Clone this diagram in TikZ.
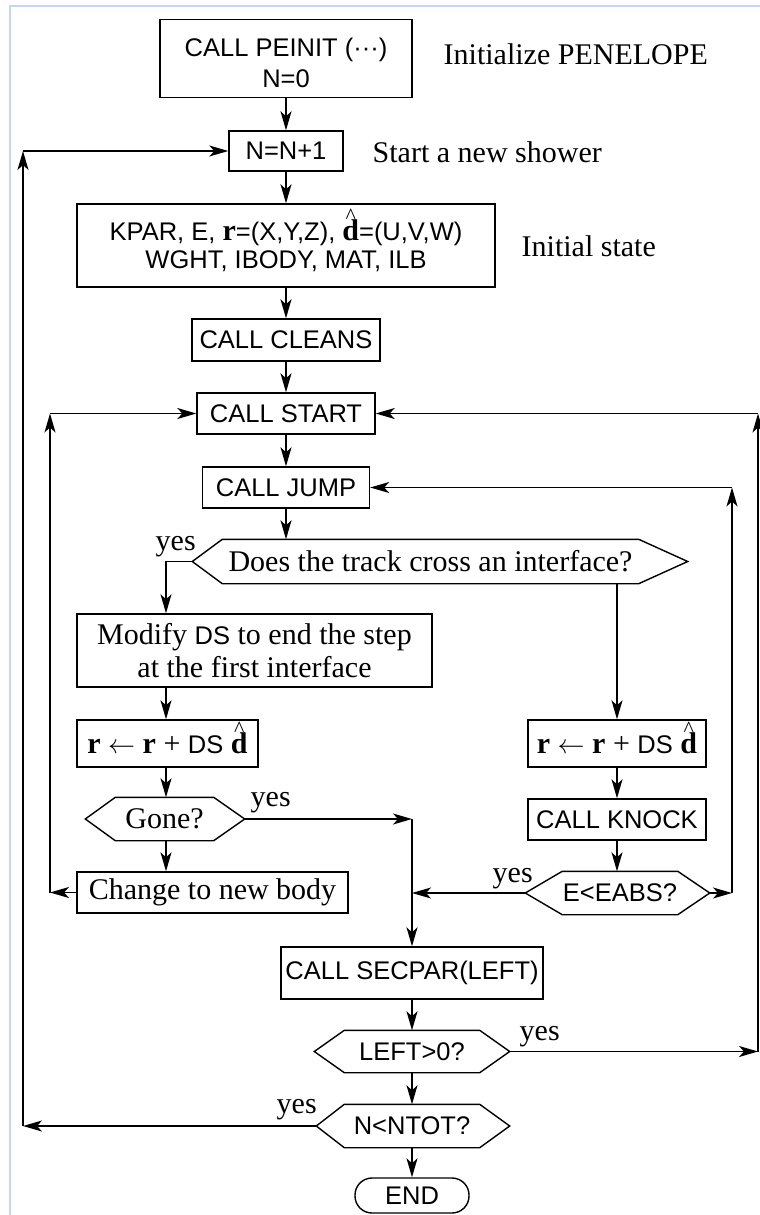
\documentclass[tikz,border=0pt]{standalone}
\usepackage{fontspec}
\usepackage{graphicx}
\setmainfont{Liberation Serif}
\newfontfamily\sansf{Liberation Sans}
\usetikzlibrary{arrows.meta}
\definecolor{framebl}{RGB}{196,216,245}
\newcommand{\dhat}{{\ooalign{{\rmfamily\bfseries\fontsize{30}{30}\selectfont d}\cr\hidewidth\raisebox{17pt}[0pt][0pt]{\rmfamily\mdseries\fontsize{22}{22}\selectfont\textasciicircum}\hidewidth\cr}}}
\newcommand{\rvec}{{\rmfamily\bfseries\fontsize{30}{30}\selectfont r}}
\newcommand{\dsf}{{\sansf\fontsize{25.5}{25.5}\selectfont DS}}
\newcommand{\larr}{\resizebox{27pt}{!}{$\leftarrow$}}
\begin{document}
\begin{tikzpicture}[x=1pt,y=-1pt,line width=1.4pt,
  sbox/.style={draw,inner sep=0pt,align=center,font=\sansf\fontsize{25.5}{28}\selectfont},
  rbox/.style={draw,inner sep=0pt,align=center,font=\fontsize{30}{33}\selectfont},
  hexa/.style 2 args={inner sep=0pt,align=center,
    append after command={\pgfextra{\draw[line width=1.4pt] (\tikzlastnode.north west) -- (\tikzlastnode.north east) -- ([xshift=#2]\tikzlastnode.east) -- (\tikzlastnode.south east) -- (\tikzlastnode.south west) -- ([xshift=-#1]\tikzlastnode.west) -- cycle;}}},
  sfont/.style={font=\sansf\fontsize{25.5}{28}\selectfont},
  rfont/.style={font=\fontsize{30}{33}\selectfont},
  lbl/.style={anchor=west,inner sep=0pt,font=\fontsize{30}{33}\selectfont},
  yeslbl/.style={anchor=base west,inner sep=0pt,font=\fontsize{30}{33}\selectfont},
  arr/.style={-{Stealth[length=19pt,width=11pt,inset=5pt]}}
]
\useasboundingbox (0,0) rectangle (760,1215);
\draw[framebl,line width=2pt] (9.5,1215) -- (9.5,6.5) -- (760,6.5);

% boxes
\node[sbox,minimum width=252pt,minimum height=78pt,font=\sansf\fontsize{25.5}{31.5}\selectfont] (peinit) at (286,58.5) {\rule{0pt}{27pt}CALL PEINIT (···)\\N=0};
\node[sbox,minimum width=114pt,minimum height=40pt] (n1) at (286,151) {N=N+1};
\node[sbox,minimum width=418pt,minimum height=83pt] (kpar) at (286,245.5) {KPAR, E, \rvec=(X,Y,Z), \dhat=(U,V,W)\\WGHT, IBODY, MAT, ILB};
\node[sbox,minimum width=188pt,minimum height=42pt] (cleans) at (286,340) {CALL CLEANS};
\node[sbox,minimum width=178pt,minimum height=41pt] (start) at (286,413.5) {CALL START};
\node[sbox,minimum width=167pt,minimum height=41pt] (jump) at (286,487.5) {CALL JUMP};
\node[hexa={30pt}{49pt},rfont,minimum width=415pt,minimum height=43pt] (cross) at (430.5,561.5) {Does the track cross an interface?};
\node[rbox,minimum width=355pt,minimum height=73pt] (modify) at (254.5,650.5) {Modify \dsf{} to end the step\\at the first interface};
\node[rbox,minimum width=181pt,minimum height=47pt] (rL) at (167.5,743.5) {\rvec{} \larr{} \rvec{} + \dsf{} \dhat};
\node[rbox,minimum width=178pt,minimum height=47pt] (rR) at (617,743.5) {\rvec{} \larr{} \rvec{} + \dsf{} \dhat};
\node[hexa={30pt}{31pt},rfont,minimum width=97pt,minimum height=42pt] (gone) at (164.5,819) {Gone?};
\node[sbox,minimum width=178pt,minimum height=41pt] (knock) at (617,819.5) {CALL KNOCK};
\node[rbox,minimum width=271pt,minimum height=41pt] (change) at (212.5,892.5) {Change to new body};
\node[hexa={37pt}{32pt},sfont,minimum width=110pt,minimum height=42pt] (eabs) at (620,893) {E<EABS?};
\node[sbox,minimum width=262pt,minimum height=52pt] (secpar) at (412,973) {CALL SECPAR(LEFT)};
\node[hexa={30pt}{30pt},sfont,minimum width=134pt,minimum height=41pt] (leftgt) at (412,1051.5) {LEFT>0?};
\node[hexa={28pt}{30pt},sfont,minimum width=134pt,minimum height=42pt] (ntot) at (412,1126) {N<NTOT?};
\node[sbox,rounded corners=17pt,minimum width=114pt,minimum height=35pt] (end) at (412,1195.5) {END};

% side labels
\node[lbl] (initlbl) at (443,54) {Initialize PENELOPE};
\node[lbl] (startlbl) at (372,152) {Start a new shower};
\node[lbl] (statelbl) at (521,246) {Initial state};
\node[yeslbl] (yes1) at (155,550) {yes};
\node[yeslbl] (yes2) at (250,806) {yes};
\node[yeslbl] (yes3) at (492,882) {yes};
\node[yeslbl] (yes4) at (519,1040) {yes};
\node[yeslbl] (yes5) at (276,1113) {yes};

% hexagon tips
\coordinate (crossL) at ([xshift=-30pt]cross.west);
\coordinate (goneR) at ([xshift=31pt]gone.east);
\coordinate (eabsL) at ([xshift=-37pt]eabs.west);
\coordinate (eabsR) at ([xshift=32pt]eabs.east);
\coordinate (leftgtR) at ([xshift=30pt]leftgt.east);
\coordinate (ntotL) at ([xshift=-28pt]ntot.west);

% corner points
\coordinate (cyes) at (166,561.5);
\coordinate (gy) at (412,819);
\coordinate (er) at (732,893);
\coordinate (ert) at (732,487.5);
\coordinate (cl) at (50,892.5);
\coordinate (clt) at (50,413.5);
\coordinate (lr) at (758,1051.5);
\coordinate (lrt) at (758,413.5);
\coordinate (nl) at (23,1126);
\coordinate (nlt) at (23,151);

% main column
\draw[arr] (peinit.south) -- (n1.north);
\draw[arr] (n1.south) -- (kpar.north);
\draw[arr] (kpar.south) -- (cleans.north);
\draw[arr] (cleans.south) -- (start.north);
\draw[arr] (start.south) -- (jump.north);
\draw[arr] (jump.south) -- (jump.south |- cross.north);

% left column
\draw[arr] (crossL) -- (cyes) -- (cyes |- modify.north);
\draw[arr] (cyes |- modify.south) -- (cyes |- rL.north);
\draw[arr] (cyes |- rL.south) -- (cyes |- gone.north);
\draw[arr] (cyes |- gone.south) -- (cyes |- change.north);

% right column
\draw[arr] (rR.north |- cross.south) -- (rR.north);
\draw[arr] (rR.south) -- (knock.north);
\draw[arr] (knock.south) -- (knock.south |- eabs.north);

% gone yes / eabs yes
\draw[arr] (goneR) -- (gy);
\draw[arr] (gy) -- (secpar.north);
\draw[arr] (eabsL) -- (secpar.north |- eabsL);

% eabs no -> jump
\draw[arr] (eabsR) -- (er);
\draw[arr] (er) -- (ert);
\draw[arr] (ert) -- (jump.east);

% change -> start
\draw[arr] (change.west) -- (cl);
\draw[arr] (cl) -- (clt);
\draw[arr] (clt) -- (start.west);

% lower column
\draw[arr] (secpar.south) -- (leftgt.north);
\draw[arr] (leftgt.south) -- (ntot.north);
\draw[arr] (ntot.south) -- (end.north);

% left>0 yes -> start
\draw[arr] (leftgtR) -- (lr);
\draw[arr] (lr) -- (lrt);
\draw[arr] (lrt) -- (start.east);

% n<ntot yes -> n=n+1
\draw[arr] (ntotL) -- (nl);
\draw[arr] (nl) -- (nlt);
\draw[arr] (nlt) -- (n1.west);
\end{tikzpicture}
\end{document}
